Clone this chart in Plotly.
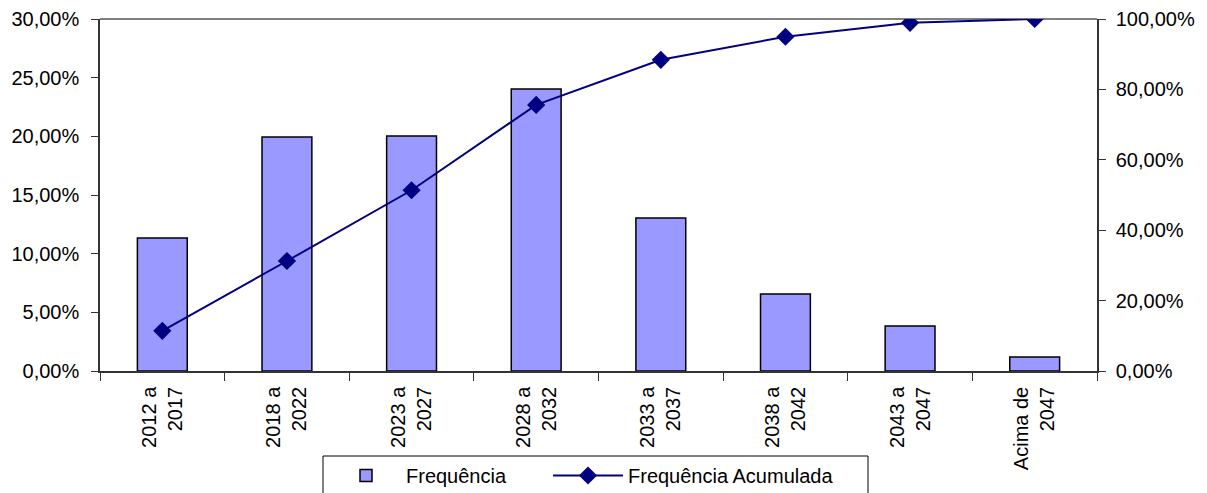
import plotly.graph_objects as go

categories = ["2012 a<br>2017", "2018 a<br>2022", "2023 a<br>2027", "2028 a<br>2032",
              "2033 a<br>2037", "2038 a<br>2042", "2043 a<br>2047", "Acima de<br>2047"]
frequencia = [0.1134, 0.1995, 0.2003, 0.2404, 0.1304, 0.0656, 0.0384, 0.0120]
freq_acumulada = [0.1140, 0.3125, 0.5135, 0.7560, 0.8840, 0.9496, 0.9890, 1.0000]

FONT = "Liberation Sans, Arial, sans-serif"

# page body has an 8px margin, so the figure is 8px smaller than the window
W, H = 1199, 485
ML, MR, MT, MB = 92, 110, 11, 122
PW, PH = W - ML - MR, H - MT - MB

fig = go.Figure()
fig.add_trace(go.Bar(
    x=categories, y=frequencia, name="Frequência",
    marker=dict(color="#9999FF", line=dict(color="black", width=1.5)),
    width=0.4, yaxis="y", legend="legend",
))
fig.add_trace(go.Scatter(
    x=categories, y=freq_acumulada, name="Frequência Acumulada",
    mode="lines+markers", yaxis="y2", legend="legend2",
    line=dict(color="#000080", width=2),
    marker=dict(symbol="diamond", size=14, color="#000080"),
))

legend_common = dict(orientation="h", xref="container", xanchor="left",
                     y=1 - 448 / H, yref="container", yanchor="top",
                     borderwidth=0, bgcolor="rgba(0,0,0,0)", font=dict(size=20),
                     itemwidth=70)

# legend box in paper coordinates
box_x0 = (315 - ML) / PW
box_x1 = (860 - ML) / PW
box_y1 = (MT + PH - 448) / PH

fig.update_layout(
    width=W, height=H,
    margin=dict(l=ML, r=MR, t=MT, b=MB, autoexpand=False),
    paper_bgcolor="white", plot_bgcolor="white",
    font=dict(family=FONT, size=20, color="black"),
    separators=",.",
    showlegend=True,
    legend=dict(x=318 / W, **legend_common),
    legend2=dict(x=540 / W, **legend_common),
    xaxis=dict(
        type="category", tickangle=-90, showgrid=False, automargin=False,
        showline=True, linecolor="#333333", linewidth=1.5,
        ticks="outside", ticklen=8, tickcolor="#333333", tickson="boundaries",
        ticklabelstandoff=6,
    ),
    yaxis=dict(
        range=[0, 0.30], dtick=0.05, tickformat=".2%", showgrid=False, automargin=False,
        showline=True, linecolor="#333333", linewidth=1.5,
        ticks="outside", ticklen=7, tickcolor="#333333", zeroline=False,
        ticklabelstandoff=8,
    ),
    yaxis2=dict(
        range=[0, 1.0], dtick=0.2, tickformat=".2%", overlaying="y", side="right",
        showgrid=False, showline=True, linecolor="#333333", linewidth=1.5, automargin=False,
        ticks="outside", ticklen=7, tickcolor="#333333", zeroline=False,
        ticklabelstandoff=6,
    ),
    shapes=[
        dict(type="line", xref="paper", yref="paper", x0=0, x1=1, y0=1, y1=1,
             line=dict(color="#808080", width=2), layer="below"),
        dict(type="rect", xref="paper", yref="paper", x0=box_x0, x1=box_x1,
             y0=box_y1, y1=-0.5, line=dict(color="black", width=1),
             fillcolor="rgba(0,0,0,0)"),
    ],
)

fig.write_html("out.html")
